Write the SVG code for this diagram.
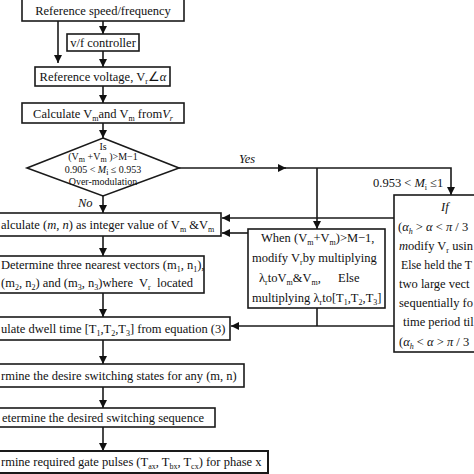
<svg xmlns="http://www.w3.org/2000/svg" width="474" height="474" viewBox="0 0 474 474">
<style>
.b{fill:#fff;stroke:#1a1a1a;stroke-width:1.6}
.c{fill:none;stroke:#1a1a1a;stroke-width:1.6}
text{font-family:"Liberation Serif","Times New Roman",serif;font-size:12.5px;fill:#111}
.m{text-anchor:middle}
.i{font-style:italic}
.s{font-size:8px}
.d{font-size:10px}
</style>
<defs>
<marker id="a" viewBox="0 0 10 10" refX="10" refY="5" markerWidth="8" markerHeight="8" markerUnits="userSpaceOnUse" orient="auto">
<path d="M0,0 L10,5 L0,10 z" fill="#111"/>
</marker>
</defs>
<rect width="474" height="474" fill="#fff"/>

<g id="connectors">
<line class="c" x1="103" y1="21" x2="103" y2="34" marker-end="url(#a)"/>
<line class="c" x1="58" y1="21" x2="58" y2="63" marker-end="url(#a)"/>
<line class="c" x1="103" y1="51" x2="103" y2="67" marker-end="url(#a)"/>
<line class="c" x1="103" y1="86" x2="103" y2="103" marker-end="url(#a)"/>
<line class="c" x1="103" y1="123" x2="103" y2="138" marker-end="url(#a)"/>
<line class="c" x1="103" y1="196" x2="103" y2="213" marker-end="url(#a)"/>
<line class="c" x1="103" y1="236" x2="103" y2="256" marker-end="url(#a)"/>
<line class="c" x1="103" y1="293" x2="103" y2="317" marker-end="url(#a)"/>
<line class="c" x1="103" y1="340" x2="103" y2="364" marker-end="url(#a)"/>
<line class="c" x1="103" y1="387" x2="103" y2="408" marker-end="url(#a)"/>
<line class="c" x1="103" y1="427" x2="103" y2="451" marker-end="url(#a)"/>
<line class="c" x1="179" y1="168" x2="286" y2="168" marker-end="url(#a)"/>
<polyline class="c" points="284,168 451,168 451,195" marker-end="url(#a)"/>
<line class="c" x1="317" y1="168" x2="317" y2="229" marker-end="url(#a)"/>
<line class="c" x1="394" y1="218" x2="222" y2="218" marker-end="url(#a)"/>
<line class="c" x1="248" y1="233" x2="222" y2="233" marker-end="url(#a)"/>
<line class="c" x1="317" y1="308" x2="317" y2="326"/>
<line class="c" x1="394" y1="326" x2="231" y2="326" marker-end="url(#a)"/>
<text class="i" x="239" y="163">Yes</text>
<text class="i" x="78" y="207">No</text>
<text x="373" y="187">0.953 &lt; <tspan class="i">M</tspan><tspan class="s" dy="3">i</tspan><tspan dy="-3"> ≤1</tspan></text>
</g>

<g id="n1">
<rect class="b" x="22" y="-1" width="162" height="22"/>
<text class="m" x="103" y="15">Reference speed/frequency</text>
</g>

<g id="n2">
<rect class="b" x="67" y="34" width="72" height="17"/>
<text class="m" x="103" y="47">v/f controller</text>
</g>

<g id="n3">
<rect class="b" x="35" y="67" width="135" height="19"/>
<text class="m" x="103" y="81">Reference voltage, V<tspan class="s" dy="3">r</tspan><tspan dy="-3">∠</tspan><tspan class="i">α</tspan></text>
</g>

<g id="n4">
<rect class="b" x="22" y="103" width="162" height="20"/>
<text class="m" x="103" y="118">Calculate V<tspan class="s" dy="3">m</tspan><tspan dy="-3">and V</tspan><tspan class="s" dy="3">m</tspan><tspan dy="-3"> from</tspan><tspan class="i">V</tspan><tspan class="s i" dy="3">r</tspan></text>
</g>

<g id="n5">
<polygon class="b" points="103,138 179,168 103,196 27,168"/>
<text class="m d" x="103" y="150">Is</text>
<text class="m d" x="103" y="160">(V<tspan class="s" dy="2">m</tspan><tspan dy="-2"> +V</tspan><tspan class="s" dy="2">m</tspan><tspan dy="-2"> )&gt;M−1</tspan></text>
<text class="m d" x="103" y="173">0.905 &lt; <tspan class="i">M</tspan><tspan class="s" dy="2">i</tspan><tspan dy="-2"> ≤ 0.953</tspan></text>
<text class="m d" x="103" y="185">Over-modulation</text>
</g>

<g id="n6">
<rect class="b" x="-2" y="213" width="223" height="23"/>
<text x="1" y="229">alculate (<tspan class="i">m</tspan>, <tspan class="i">n</tspan>) as integer value of V<tspan class="s" dy="3">m</tspan><tspan dy="-3"> &amp;V</tspan><tspan class="s" dy="3">m</tspan></text>
</g>

<g id="n7">
<rect class="b" x="-2" y="256" width="206" height="37"/>
<text x="1" y="269">Determine three nearest vectors (m<tspan class="s" dy="3">1</tspan><tspan dy="-3">, n</tspan><tspan class="s" dy="3">1</tspan><tspan dy="-3">),</tspan></text>
<text x="1" y="287" xml:space="preserve">(m<tspan class="s" dy="3">2</tspan><tspan dy="-3">, n</tspan><tspan class="s" dy="3">2</tspan><tspan dy="-3">) and (m</tspan><tspan class="s" dy="3">3</tspan><tspan dy="-3">, n</tspan><tspan class="s" dy="3">3</tspan><tspan dy="-3">)where  V</tspan><tspan class="s" dy="3">r</tspan><tspan dy="-3">  located</tspan></text>
</g>

<g id="n8">
<rect class="b" x="-2" y="317" width="232" height="23"/>
<text x="1" y="333">ulate dwell time [T<tspan class="s" dy="3">1</tspan><tspan dy="-3">,T</tspan><tspan class="s" dy="3">2</tspan><tspan dy="-3">,T</tspan><tspan class="s" dy="3">3</tspan><tspan dy="-3">] from equation (3)</tspan></text>
</g>

<g id="n9">
<rect class="b" x="-2" y="364" width="246" height="23"/>
<text x="1" y="380">rmine the desire switching states for any (m, n)</text>
</g>

<g id="n10">
<rect class="b" x="-2" y="408" width="217" height="19"/>
<text x="2" y="422">etermine the desired switching sequence</text>
</g>

<g id="n11">
<rect class="b" x="-2" y="451" width="270" height="22" style="stroke-width:2"/>
<text x="1" y="466">rmine required gate pulses (T<tspan class="s" dy="3">ax</tspan><tspan dy="-3">, T</tspan><tspan class="s" dy="3">bx</tspan><tspan dy="-3">, T</tspan><tspan class="s" dy="3">cx</tspan><tspan dy="-3">) for phase x</tspan></text>
</g>

<g id="n12">
<rect class="b" x="248" y="229" width="137" height="79"/>
<text x="261" y="242">When (V<tspan class="s" dy="3">m</tspan><tspan dy="-3">+V</tspan><tspan class="s" dy="3">m</tspan><tspan dy="-3">)&gt;M−1,</tspan></text>
<text x="252" y="262">modify V<tspan class="s" dy="3">r</tspan><tspan dy="-3">by multiplying</tspan></text>
<text x="259" y="282">λ<tspan class="s" dy="3">r</tspan><tspan dy="-3">toV</tspan><tspan class="s" dy="3">m</tspan><tspan dy="-3">&amp;V</tspan><tspan class="s" dy="3">m</tspan><tspan dy="-3">,</tspan><tspan x="338">Else</tspan></text>
<text x="252" y="302">multiplying λ<tspan class="s" dy="3">r</tspan><tspan dy="-3">to[T</tspan><tspan class="s" dy="3">1</tspan><tspan dy="-3">,T</tspan><tspan class="s" dy="3">2</tspan><tspan dy="-3">,T</tspan><tspan class="s" dy="3">3</tspan><tspan dy="-3">]</tspan></text>
</g>

<g id="n13">
<rect class="b" x="394" y="195" width="90" height="157"/>
<text class="i" x="441" y="211">If</text>
<text x="398" y="231">(<tspan class="i">α</tspan><tspan class="s i" dy="3">h</tspan><tspan dy="-3"> &gt; </tspan><tspan class="i">α</tspan> &lt; <tspan class="i">π</tspan> / 3</text>
<text x="399" y="250"><tspan class="i">m</tspan>odify V<tspan class="s" dy="3">r</tspan><tspan dy="-3"> usin</tspan></text>
<text x="401" y="269" textLength="71" lengthAdjust="spacingAndGlyphs">Else held the T</text>
<text x="399" y="288">two large vect</text>
<text x="399" y="307">sequentially fo</text>
<text x="403" y="326">time period til</text>
<text x="399" y="346">(<tspan class="i">α</tspan><tspan class="s i" dy="3">h</tspan><tspan dy="-3"> &lt; </tspan><tspan class="i">α</tspan> &gt; <tspan class="i">π</tspan> / 3</text>
</g>
</svg>
